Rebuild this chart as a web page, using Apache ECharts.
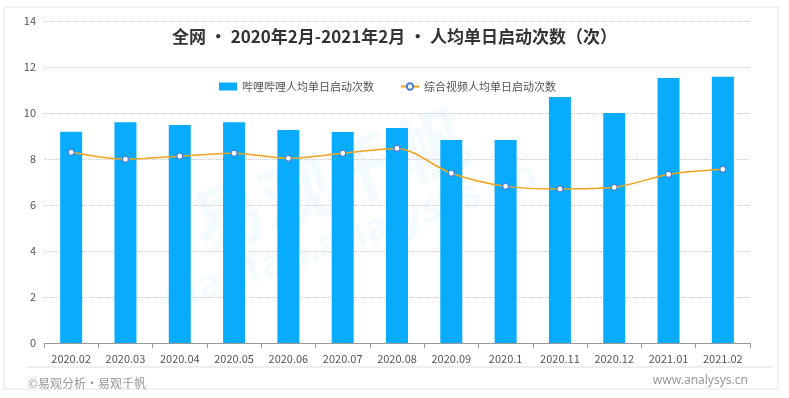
<!DOCTYPE html>
<html>
<head>
<meta charset="utf-8">
<script src="https://cdn.jsdelivr.net/npm/echarts@6/dist/echarts.min.js"></script>
<style>
  html, body { margin: 0; padding: 0; background: #fff; }
  #chart { width: 789px; height: 398px; }
</style>
</head>
<body>
<div id="chart"></div>
<script>
// 数据
const categories = ['2020.02', '2020.03', '2020.04', '2020.05', '2020.06', '2020.07', '2020.08',
  '2020.09', '2020.1', '2020.11', '2020.12', '2021.01', '2021.02']
const biliValues = [9.18, 9.6, 9.48, 9.6, 9.26, 9.17, 9.35, 8.83, 8.83, 10.7, 10.0, 11.52, 11.58]
const videoValues = [8.29, 7.99, 8.12, 8.25, 8.03, 8.25, 8.46, 7.38, 6.81, 6.70, 6.77, 7.33, 7.55]
const yTicks = [0, 2, 4, 6, 8, 10, 12, 14]

const font = '"Noto Sans CJK SC", "Noto Sans", sans-serif'
const chart = echarts.init(document.getElementById('chart'))

chart.setOption({
  animation: false,
  textStyle: { fontFamily: font },
  title: {
    text: '全网 · 2020年2月-2021年2月 · 人均单日启动次数（次）',
    left: 'center',
    top: 23,
    textStyle: { fontSize: 17, fontWeight: 'bold', color: '#333', fontFamily: font }
  },
  legend: {
    left: 214,
    top: 76,
    itemGap: 26,
    itemWidth: 18,
    itemHeight: 8,
    textStyle: { fontSize: 11, color: '#555', fontFamily: font },
    data: [
      { name: '哔哩哔哩人均单日启动次数', icon: 'rect' },
      '综合视频人均单日启动次数'
    ]
  },
  grid: { left: 44, right: 39, top: 21, bottom: 55 },
  graphic: [
    // 外框
    { type: 'rect', shape: { x: 4, y: 7, width: 774, height: 382 }, style: { fill: 'none', stroke: '#e3e3e3', lineWidth: 1 }, silent: true, z: -10 },
    // 分隔线
    { type: 'line', shape: { x1: 26, y1: 367, x2: 773, y2: 367 }, style: { stroke: '#e8e8e8', lineWidth: 1.5 }, silent: true },
    // 水印
    { type: 'text', x: 330, y: 180, rotation: 0.33, style: { text: '易观千帆', font: 'bold 72px "Noto Sans CJK SC"', fill: 'rgba(10,170,240,0.05)', align: 'center', verticalAlign: 'middle' }, silent: true, z: -5 },
    { type: 'text', x: 350, y: 238, rotation: 0.33, style: { text: 'qianfan.analysys.cn', font: 'bold 40px "Noto Sans"', fill: 'rgba(10,170,240,0.05)', align: 'center', verticalAlign: 'middle' }, silent: true, z: -5 },
    // 底部文字
    { type: 'text', x: 28, y: 383, style: { text: '©易观分析·易观千帆', font: '12px "Noto Sans CJK SC"', fill: '#999', verticalAlign: 'middle' }, silent: true },
    { type: 'text', x: 748, y: 381, style: { text: 'www.analysys.cn', font: '12px "Noto Sans"', fill: '#999', align: 'right', verticalAlign: 'middle' }, silent: true }
  ],
  xAxis: {
    type: 'category',
    data: categories,
    axisLine: { lineStyle: { color: '#999' } },
    axisTick: { show: true, lineStyle: { color: '#999' } },
    axisLabel: { fontSize: 11, color: '#555', margin: 10, interval: 0 }
  },
  yAxis: {
    type: 'value',
    min: yTicks[0],
    max: yTicks[yTicks.length - 1],
    interval: 2,
    axisLine: { show: false },
    axisTick: { show: false },
    axisLabel: { fontSize: 11, color: '#555', margin: 8 },
    splitLine: { lineStyle: { color: '#ccc', type: 'dotted' } }
  },
  series: [
    {
      name: '哔哩哔哩人均单日启动次数',
      type: 'bar',
      data: biliValues,
      barWidth: 22,
      itemStyle: { color: '#09acfd' }
    },
    {
      name: '综合视频人均单日启动次数',
      type: 'line',
      data: videoValues,
      smooth: 0.3,
      symbol: 'circle',
      symbolSize: 6,
      lineStyle: { color: '#f5a21c', width: 1.5 },
      itemStyle: { color: '#fff', borderColor: '#4a7fd4', borderWidth: 1.2 }
    }
  ]
})
</script>
</body>
</html>
